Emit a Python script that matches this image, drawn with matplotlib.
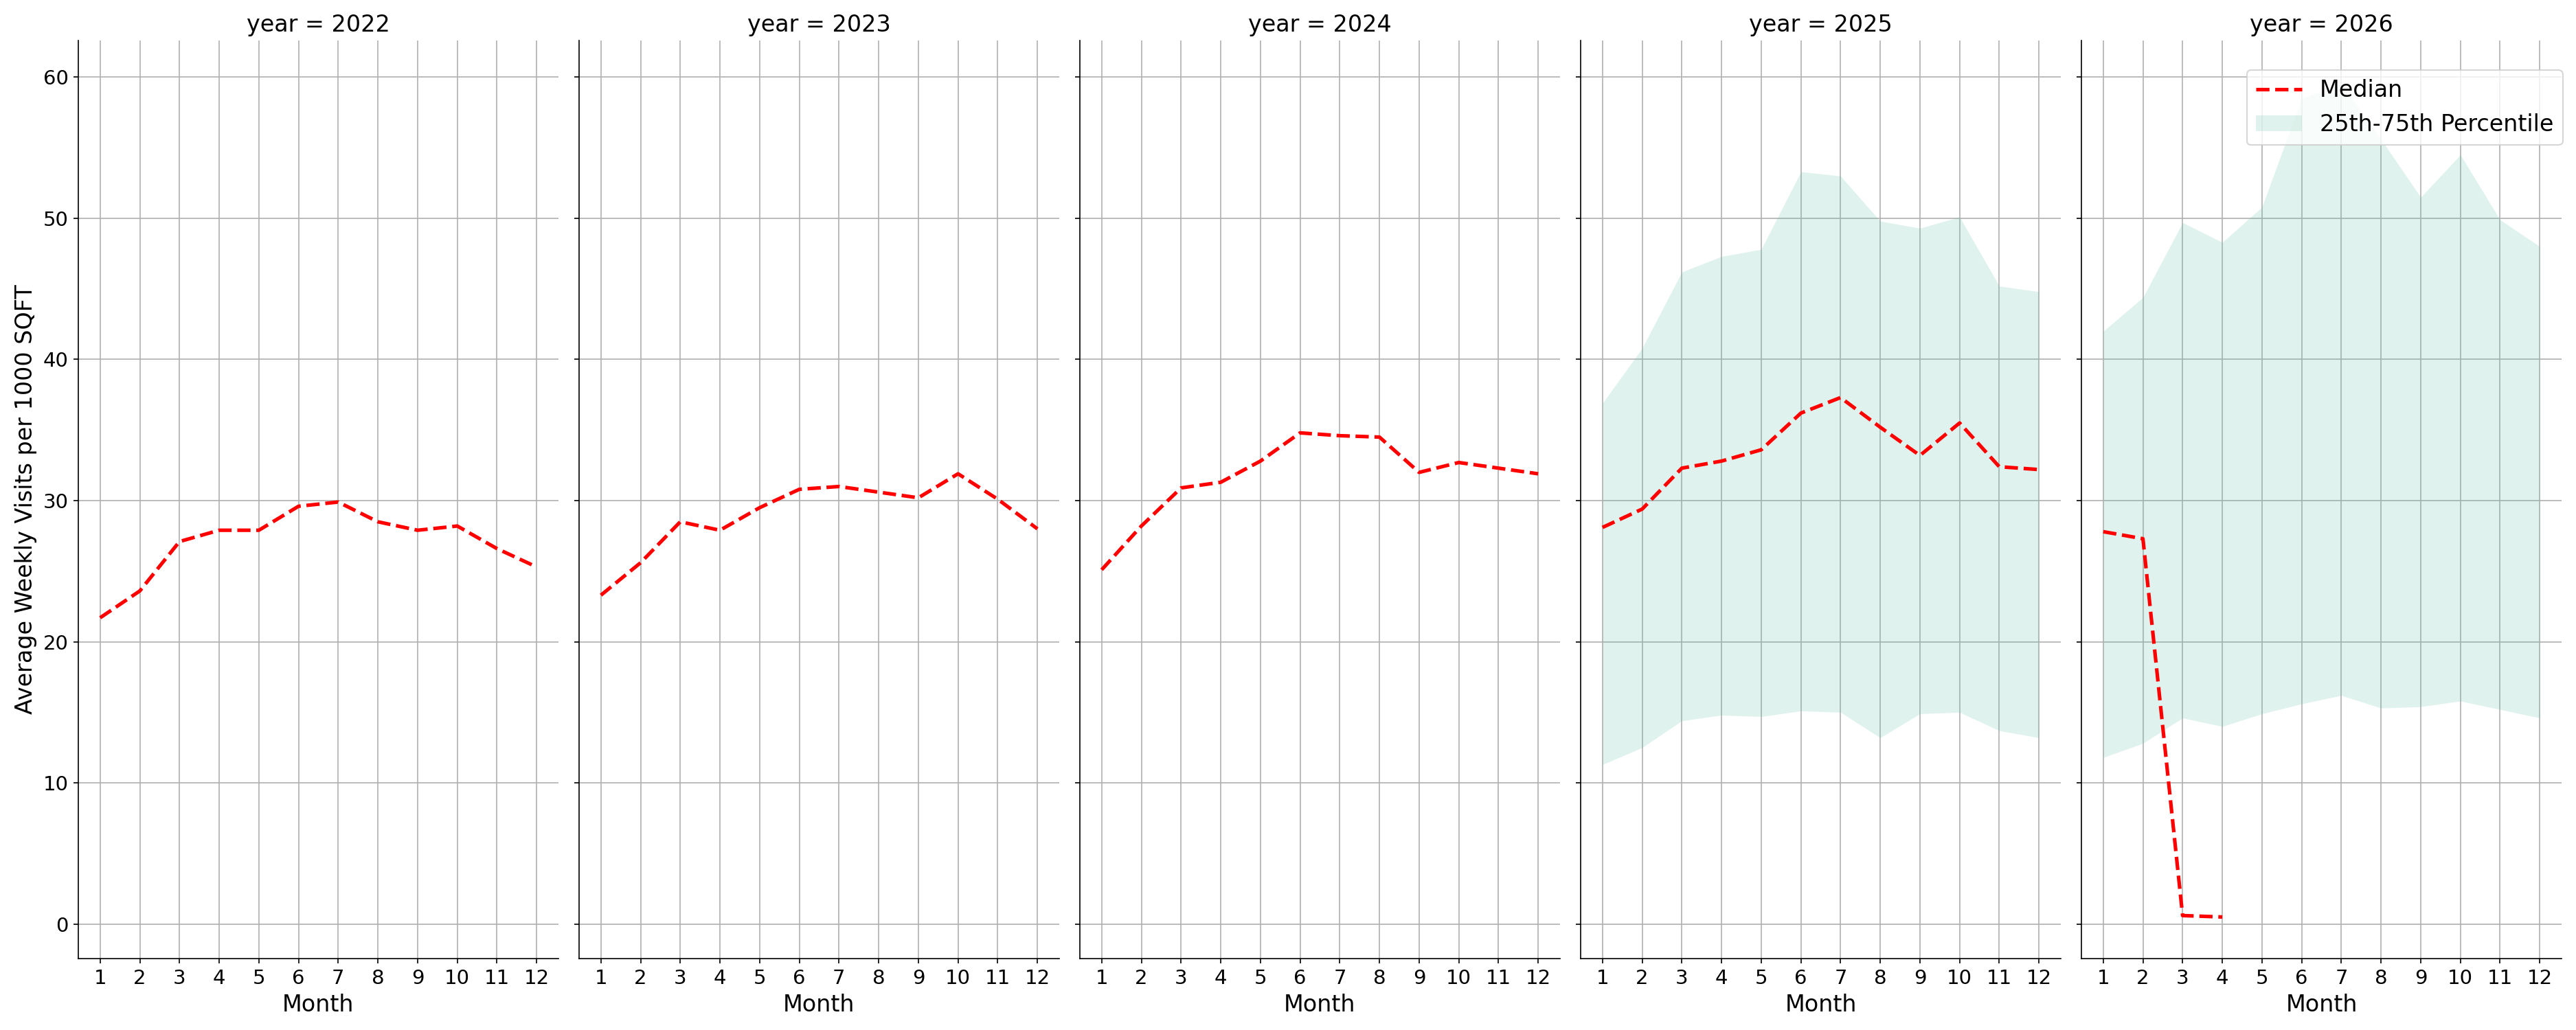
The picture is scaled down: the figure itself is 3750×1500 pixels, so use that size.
import numpy as np
import matplotlib
matplotlib.use('Agg')
import matplotlib.pyplot as plt

months = list(range(1, 13))
years = [2022, 2023, 2024, 2025, 2026]

median_2022 = [21.7, 23.6, 27.1, 27.9, 27.9, 29.6, 29.9, 28.5, 27.9, 28.2, 26.6, 25.3]
median_2023 = [23.3, 25.6, 28.5, 27.9, 29.5, 30.8, 31.0, 30.6, 30.2, 31.9, 30.1, 28.0]
median_2024 = [25.1, 28.2, 30.9, 31.3, 32.8, 34.8, 34.6, 34.5, 32.0, 32.7, 32.3, 31.9]
median_2025 = [28.1, 29.4, 32.3, 32.8, 33.6, 36.2, 37.3, 35.2, 33.2, 35.5, 32.4, 32.2]
median_2026 = [27.8, 27.3, 0.6, 0.5, np.nan, np.nan, np.nan, np.nan, np.nan, np.nan, np.nan, np.nan]

p25_2025 = [11.3, 12.5, 14.4, 14.8, 14.7, 15.1, 15.0, 13.2, 14.9, 15.0, 13.7, 13.2]
p75_2025 = [36.9, 40.8, 46.2, 47.3, 47.8, 53.3, 53.0, 49.8, 49.3, 50.1, 45.2, 44.8]
p25_2026 = [11.8, 12.8, 14.6, 14.0, 14.9, 15.6, 16.2, 15.3, 15.4, 15.8, 15.2, 14.6]
p75_2026 = [42.0, 44.4, 49.7, 48.3, 50.8, 58.5, 59.5, 55.6, 51.5, 54.5, 49.9, 48.0]

medians = [median_2022, median_2023, median_2024, median_2025, median_2026]
p25s = [None, None, None, p25_2025, p25_2026]
p75s = [None, None, None, p75_2025, p75_2026]

fig, axes = plt.subplots(1, 5, figsize=(25, 10), dpi=150, sharey=True)
fig.subplots_adjust(left=0.0304, right=0.9944, bottom=0.0693, top=0.9607, wspace=0.043)

for ax, year, med, lo, hi in zip(axes, years, medians, p25s, p75s):
    ax.set_axisbelow(True)
    ax.grid(True, color='#b0b0b0', linewidth=0.8)
    if lo is not None:
        ax.fill_between(months, lo, hi, color='#66c2a5', alpha=0.2, linewidth=0,
                        label='25th-75th Percentile')
    ax.plot(months, med, color='red', linestyle='--', linewidth=2.5, label='Median')
    ax.set_title(f'year = {year}', fontsize=16)
    ax.set_xlabel('Month', fontsize=16)
    ax.set_xticks(months)
    ax.tick_params(labelsize=14)
    ax.spines['top'].set_visible(False)
    ax.spines['right'].set_visible(False)

axes[0].set_ylabel('Average Weekly Visits per 1000 SQFT', fontsize=16)
axes[0].set_ylim(-2.45, 62.6)

handles, labels = axes[-1].get_legend_handles_labels()
order = [labels.index('Median'), labels.index('25th-75th Percentile')]
fig.legend([handles[i] for i in order], [labels[i] for i in order],
           loc='upper right', bbox_to_anchor=(0.9949, 0.932), borderaxespad=0, fontsize=16)

plt.savefig('out.png', dpi=150)
